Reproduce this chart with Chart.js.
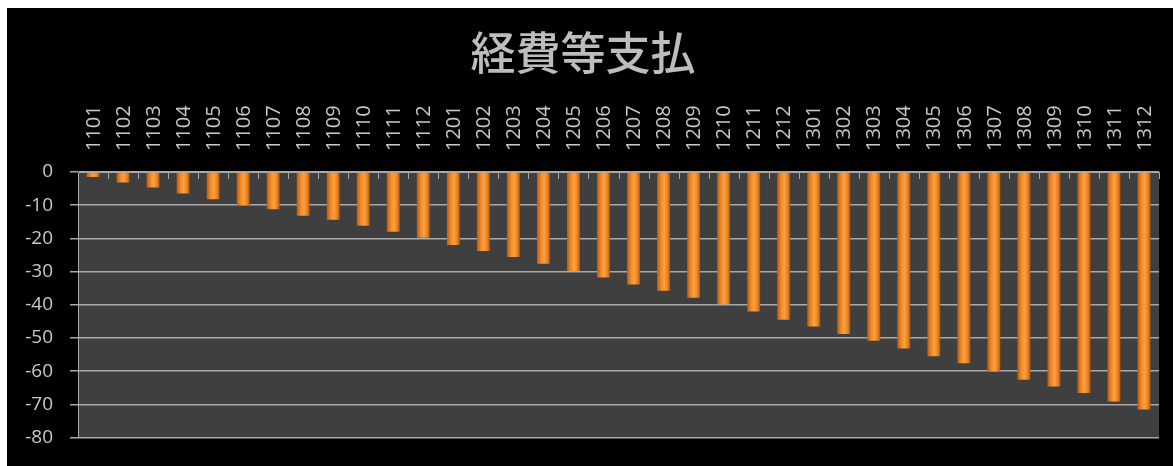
<!DOCTYPE html>
<html>
<head>
<meta charset="utf-8">
<script src="https://cdn.jsdelivr.net/npm/chart.js@4/dist/chart.umd.min.js"></script>
<style>
  html, body { margin: 0; padding: 0; background: #fff; }
  #wrap { position: absolute; left: 7px; top: 8px; width: 1166px; height: 458px; background: #000; }
</style>
</head>
<body>
<div id="wrap"><canvas id="myChart" width="1166" height="458"></canvas></div>
<script>
const months = [
    "1101", "1102", "1103", "1104", "1105", "1106", "1107", "1108", "1109", "1110", "1111", "1112",
    "1201", "1202", "1203", "1204", "1205", "1206", "1207", "1208", "1209", "1210", "1211", "1212",
    "1301", "1302", "1303", "1304", "1305", "1306", "1307", "1308", "1309", "1310", "1311", "1312",
];
const payments = [
    -1.5, -3.2, -4.7, -6.5, -8.2, -10.0, -11.2, -13.2, -14.4, -16.2, -18.0, -19.8,
    -22.0, -23.8, -25.6, -27.6, -29.8, -31.8, -33.9, -35.8, -37.9, -39.8, -42.0, -44.5,
    -46.5, -48.8, -50.8, -53.2, -55.5, -57.6, -60.1, -62.6, -64.6, -66.6, -69.1, -71.5,
];
const yMin = -80;
const yMax = 0;
const yStep = 10;

const AXIS_COLOR = "#a9a9a9";
const TEXT_COLOR = "#c8c8c8";
const BAR_PCT = 0.43;

// dark plot background + short tick marks hanging from the zero line
const plotArea = {
    id: "plotArea",
    beforeDraw(chart) {
        const {ctx, chartArea: a} = chart;
        ctx.save();
        ctx.fillStyle = "#3f3f3f";
        ctx.fillRect(a.left, a.top, a.right - a.left, a.bottom - a.top);
        ctx.restore();
    },
    afterDatasetsDraw(chart) {
        const {ctx, chartArea: a, scales} = chart;
        const x = scales.x;
        ctx.save();
        ctx.strokeStyle = AXIS_COLOR;
        ctx.lineWidth = 1;
        ctx.beginPath();
        for (let i = 0; i <= months.length; i++) {
            let px;
            if (i === 0) px = a.left;
            else if (i === months.length) px = a.right;
            else px = (x.getPixelForValue(i - 1) + x.getPixelForValue(i)) / 2;
            px = Math.round(px) + 0.5;
            ctx.moveTo(px, a.top);
            ctx.lineTo(px, a.top + 7);
        }
        ctx.stroke();
        ctx.restore();
    }
};

// cylinder-like shading across each bar
function barGradient(context) {
    const chart = context.chart;
    const x = chart.scales.x;
    if (!chart.chartArea || !x) return "#ee8a2a";
    const cx = x.getPixelForValue(context.dataIndex);
    const half = (x.width / months.length) * BAR_PCT / 2;
    const g = chart.ctx.createLinearGradient(cx - half, 0, cx + half, 0);
    g.addColorStop(0, "#bb5a12");
    g.addColorStop(0.3, "#f08a28");
    g.addColorStop(0.55, "#fca040");
    g.addColorStop(0.8, "#ea8422");
    g.addColorStop(1, "#ae5412");
    return g;
}

Chart.register(plotArea);

const ctx = document.getElementById("myChart").getContext("2d");
new Chart(ctx, {
    type: "bar",
    data: {
        labels: months,
        datasets: [{
            label: "経費等支払",
            data: payments,
            backgroundColor: barGradient,
            borderWidth: 0,
            barPercentage: BAR_PCT,
            categoryPercentage: 1.0,
        }]
    },
    options: {
        responsive: false,
        animation: false,
        layout: {
            padding: {left: 0, right: 14, top: 0, bottom: 23}
        },
        plugins: {
            legend: {display: false},
            tooltip: {enabled: false},
            title: {
                display: true,
                text: "経費等支払",
                color: "#bdbdbd",
                font: {family: "'Noto Sans CJK JP', sans-serif", size: 45, weight: 500},
                padding: {top: 18, bottom: 0},
            }
        },
        scales: {
            x: {
                position: "top",
                grid: {display: false, drawTicks: false},
                border: {display: true, color: AXIS_COLOR, width: 1},
                ticks: {
                    color: TEXT_COLOR,
                    font: {family: "'Open Sans', sans-serif", size: 20},
                    minRotation: 90,
                    maxRotation: 90,
                    padding: 21,
                    labelOffset: 25,
                    autoSkip: false,
                },
                afterFit(scale) {
                    scale.height = 92;
                }
            },
            y: {
                min: yMin,
                max: yMax,
                grid: {
                    color: AXIS_COLOR,
                    lineWidth: 1.5,
                    tickLength: 8,
                },
                border: {display: true, color: AXIS_COLOR, width: 1},
                ticks: {
                    stepSize: yStep,
                    color: TEXT_COLOR,
                    font: {family: "'Open Sans', sans-serif", size: 19},
                    padding: 17,
                },
                afterFit(scale) {
                    scale.width = 71;
                }
            }
        }
    }
});
</script>
</body>
</html>
